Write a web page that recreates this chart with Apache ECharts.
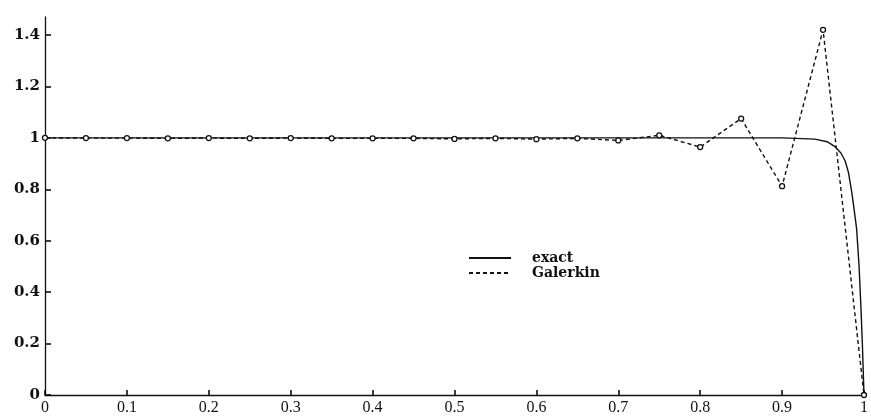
<!DOCTYPE html>
<html>
<head>
<meta charset="utf-8">
<script src="https://cdn.jsdelivr.net/npm/echarts@6/dist/echarts.min.js"></script>
<style>
  html, body { margin: 0; padding: 0; background: #fff; }
  #chart { width: 871px; height: 418px; }
</style>
</head>
<body>
<div id="chart"></div>
<script>
// galerkin nodes
var galerkinX = [0, 0.05, 0.1, 0.15, 0.2, 0.25, 0.3, 0.35, 0.4, 0.45, 0.5,
                 0.55, 0.6, 0.65, 0.7, 0.75, 0.8, 0.85, 0.9, 0.95, 1];
var galerkinY = [1, 0.999, 0.999, 0.998, 0.999, 0.998, 0.999, 0.998, 0.998, 0.998, 0.996,
                 0.998, 0.995, 0.998, 0.99, 1.01, 0.964, 1.075, 0.812, 1.42, 0];
// exact solution, boundary layer near x = 1
var exactX = [0, 0.5, 0.9, 0.94, 0.955, 0.965, 0.972, 0.977, 0.981, 0.985, 0.988, 0.991, 0.994, 0.996, 0.998, 1];
var exactY = [1, 1, 1, 0.995, 0.985, 0.965, 0.94, 0.91, 0.866, 0.79, 0.72, 0.646, 0.5, 0.36, 0.2, 0];
var xTicks = [0, 0.1, 0.2, 0.3, 0.4, 0.5, 0.6, 0.7, 0.8, 0.9, 1];
var yTicks = [0, 0.2, 0.4, 0.6, 0.8, 1, 1.2, 1.4];

function pairs(xs, ys) {
    var out = [];
    for (var i = 0; i < xs.length; i++) {
        out.push([xs[i], ys[i]]);
    }
    return out;
}

var chart = echarts.init(document.getElementById('chart'));
var option = {
    animation: false,
    backgroundColor: '#fff',
    grid: { left: 45, right: 4, top: 17, bottom: 23, containLabel: false },
    legend: {
        orient: 'vertical',
        left: 463,
        top: 246,
        itemWidth: 42,
        itemHeight: 10,
        itemGap: 1,
        itemStyle: { opacity: 0 },
        textStyle: {
            fontFamily: 'DejaVu Serif',
            fontWeight: 'bold',
            fontSize: 14,
            color: '#111',
            padding: [0, 0, 0, 16]
        },
        data: ['exact', 'Galerkin']
    },
    xAxis: {
        type: 'value',
        min: 0,
        max: 1,
        interval: 0.1,
        splitLine: { show: false },
        axisLine: { show: true, lineStyle: { color: '#111', width: 1.3 } },
        axisTick: { show: true, inside: true, length: 5, lineStyle: { color: '#000', width: 1.5 }, customValues: xTicks },
        axisLabel: {
            customValues: xTicks,
            margin: 5,
            fontFamily: 'Liberation Serif',
            fontSize: 16,
            color: '#111',
            formatter: function(v) { return String(v); }
        }
    },
    yAxis: {
        type: 'value',
        min: 0,
        max: 1.47,
        interval: 0.2,
        splitLine: { show: false },
        axisLine: { show: true, lineStyle: { color: '#111', width: 1.3 } },
        axisTick: { show: true, inside: true, length: 6, lineStyle: { color: '#000', width: 1.5 }, customValues: yTicks },
        axisLabel: {
            customValues: yTicks,
            margin: 5,
            fontFamily: 'DejaVu Serif',
            fontWeight: 'bold',
            fontSize: 15,
            color: '#111',
            formatter: function(v) { return String(+v.toFixed(1)); }
        }
    },
    series: [
        {
            name: 'exact',
            type: 'line',
            data: pairs(exactX, exactY),
            showSymbol: false,
            symbol: 'none',
            lineStyle: { color: '#111', width: 1.4 },
            z: 2
        },
        {
            name: 'Galerkin',
            type: 'line',
            data: pairs(galerkinX, galerkinY),
            symbol: 'circle',
            symbolSize: 5,
            itemStyle: { color: '#fff', borderColor: '#111', borderWidth: 1.3 },
            lineStyle: { color: '#111', width: 1.4, type: [4, 3] },
            z: 3
        }
    ]
};
chart.setOption(option);
</script>
</body>
</html>
